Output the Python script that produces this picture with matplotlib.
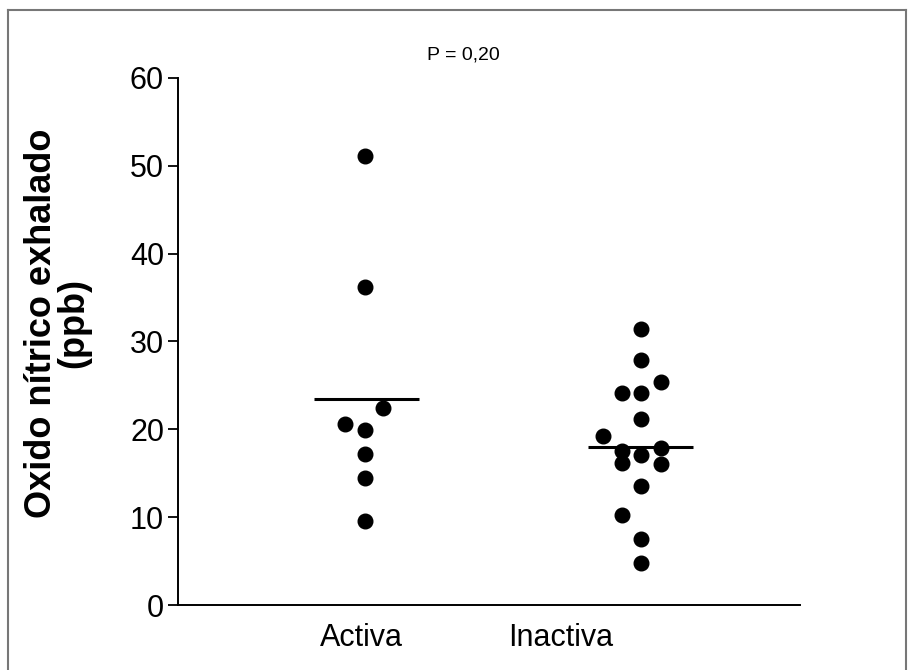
import matplotlib
matplotlib.use("Agg")
import matplotlib.pyplot as plt
from matplotlib.lines import Line2D

# exhaled NO values (ppb) per group
activa = [51.1, 36.2, 22.4, 20.6, 19.9, 17.2, 14.5, 9.6]
inactiva = [31.4, 27.9, 25.4, 24.1, 24.1, 21.2, 19.2, 17.5, 17.9, 17.1,
            16.2, 16.1, 13.5, 10.2, 7.5, 4.8]
media_activa = 23.4
media_inactiva = 18.0
grupos = ["Activa", "Inactiva"]
p_texto = "P = 0,20"

# horizontal spread of the dots inside each column
desp_activa = [0, 0, 0.065, -0.072, 0, 0, 0, 0]
desp_inactiva = [0, 0, 0.072, -0.069, 0, 0, -0.138, -0.069, 0.072, 0,
                 -0.069, 0.072, 0, -0.069, 0, 0]

plt.rcParams['font.family'] = ['Liberation Sans', 'DejaVu Sans']

fig = plt.figure(figsize=(9.11, 6.70), dpi=100)
ax = fig.add_axes([0.1954, 0.097, 0.6828, 0.7866])

xa = [1 + d for d in desp_activa]
xi = [2 + d for d in desp_inactiva]
ax.plot(xa, activa, 'o', color='black', ms=10.5, ls='none')
ax.plot(xi, inactiva, 'o', color='black', ms=10.5, ls='none')
ax.hlines(media_activa, 0.815, 1.196, color='black', lw=2.2)
ax.hlines(media_inactiva, 1.808, 2.188, color='black', lw=2.2)

ax.set_xlim(0.322, 2.576)
ax.set_ylim(0, 60)
ax.set_yticks(range(0, 61, 10))
ax.set_xticks([0.985, 1.707])
ax.set_xticklabels(grupos, fontsize=22)
ax.tick_params(axis='x', length=0, pad=13)
ax.tick_params(axis='y', length=7, width=1.3, labelsize=22, pad=3,
               direction='out')

for lado in ['top', 'right']:
    ax.spines[lado].set_visible(False)
for lado in ['left', 'bottom']:
    ax.spines[lado].set_linewidth(1.4)

ax.set_ylabel("Oxido nítrico exhalado\n(ppb)", fontsize=26, fontweight='bold',
              linespacing=0.88)
ax.yaxis.set_label_coords(-0.14, 0.535)

fig.text(463/911, 1 - 55/670, p_texto, ha='center', va='center', fontsize=14)

# thin gray frame around the figure
borde = dict(color='#777777', lw=1.5, transform=fig.transFigure)
fig.add_artist(Line2D([8/911, 906/911], [1 - 10/670, 1 - 10/670], **borde))
fig.add_artist(Line2D([8/911, 8/911], [0, 1 - 10/670], **borde))
fig.add_artist(Line2D([906/911, 906/911], [0, 1 - 10/670], **borde))

fig.savefig("out.png", dpi=100)
